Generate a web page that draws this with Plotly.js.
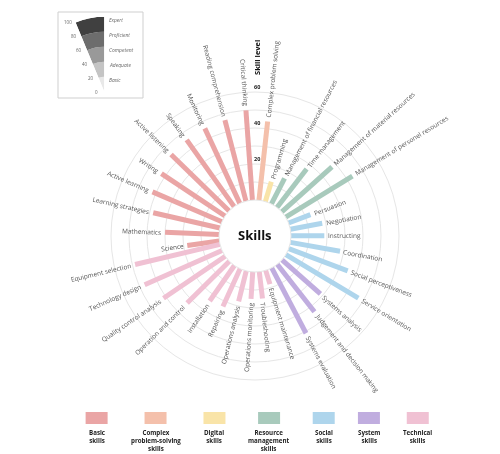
<!DOCTYPE html>
<html><head><meta charset="utf-8">
<script src="https://cdn.plot.ly/plotly-3.0.1.min.js"></script>
<style>html,body{margin:0;padding:0;background:#fff}#chart{width:500px;height:454px}
#chart .main-svg{will-change:transform}</style>
</head><body><div id="chart"></div>
<script>
// ---------- data ----------
const skills = [
 'Science','Mathematics','Learning strategies','Active learning','Writing','Active listening','Speaking',
 'Monitoring','Reading comprehension','Critical thinking',
 'Complex problem solving',
 'Programming',
 'Management of financial resources','Time management','Management of material resources','Management of personel resources',
 'Persuasion','Negotiation','Instructing','Coordination','Social perceptiveness','Service orientation',
 'Systems analysis','Judgement and decision making','Systems evaluation',
 'Equipment maintenance','Troubleshooting','Operations monitoring','Operations analysis','Repairing','Installation',
 'Operation and control','Quality control analysis','Technology design','Equipment selection'];
const levels = [18,30,38,42,42.5,45,45.5,46,46.5,50, 44, 11.5, 16,27,37.5,43.5, 13,18,18.5,28,35,47, 28.5,33.5,41, 8,15,15,17.5,23,24,33,41.5,47,48.5];
const skillGroup = [0,0,0,0,0,0,0,0,0,0, 1, 2, 3,3,3,3, 4,4,4,4,4,4, 5,5,5, 6,6,6,6,6,6,6,6,6,6];
const groupNames = ['Basic\nskills','Complex\nproblem-solving\nskills','Digital\nskills','Resource\nmanagement\nskills','Social\nskills','System\nskills','Technical\nskills'];
const groupColors = ['#eaa5a5','#f4c0ab','#f9e4a8','#a8cabc','#aed5ec','#c0addf','#f0c1d3'];
const levelNames = ['Basic','Adequate','Competent','Proficient','Expert'];
const levelBounds = [0,20,40,60,80,100];
const levelColors = ['#e8e8e8','#c4c4c4','#999999','#6d6d6d','#404040'];
const radialTicks = [20,40,60];
const centerTitle = 'Skills';
const axisTitle = 'Skill level';

// ---------- geometry ----------
const W=500,H=454;
const CX=255, CY=236, R=144, RMAX=60, HOLE=0.25;
const START=262, STEP=10.43;   // angular layout (clockwise from top)
const r0 = R*HOLE, ppu = (R-r0)/RMAX;
const X = px=>px/W, Y = py=>1-py/H;
const FONT = 'Open Sans';
const ctx = document.createElement('canvas').getContext('2d');
function tw(t,size,bold){ctx.font=(bold?'bold ':'')+size+'px "'+FONT+'"';return ctx.measureText(t).width;}

const theta = skills.map((s,i)=>(START+STEP*i)%360);

const traces = groupNames.map((g,gi)=>{
  const r=[],t=[];
  skills.forEach((s,i)=>{ if(skillGroup[i]===gi){ r.push(0,levels[i],null); t.push(theta[i],theta[i],theta[i]); }});
  return {type:'scatterpolar',subplot:'polar',mode:'lines',r,theta:t,connectgaps:false,
    line:{color:groupColors[gi],width:5},hoverinfo:'skip',showlegend:false};
});

// inset key (mini polar sector)
const IAX=104.3, IAY=91.7, IR=75, S0=90, S1=112.5;
const sw = Math.abs(Math.cos(S1*Math.PI/180));
traces.push({type:'barpolar',subplot:'polar2',
  r: levelNames.map((l,i)=>levelBounds[i+1]-levelBounds[i]),
  base: levelNames.map((l,i)=>levelBounds[i]),
  theta: levelNames.map(()=> (S0+S1)/2), width: S1-S0,
  marker:{color:levelColors,line:{width:0}},hoverinfo:'skip',showlegend:false});

const annotations=[], shapes=[];
const GAP=4, LSIZE=6.5;
skills.forEach((s,i)=>{
  const a=theta[i], rad=a*Math.PI/180;
  const d=r0+levels[i]*ppu+GAP+tw(s,LSIZE,false)/2;
  annotations.push({xref:'paper',yref:'paper',x:X(CX+Math.sin(rad)*d),y:Y(CY-Math.cos(rad)*d),
    text:s,textangle:a<179.5?a-90:a-270,showarrow:false,xanchor:'center',yanchor:'middle',
    font:{family:FONT,size:LSIZE,color:'#555'}});
});
annotations.push({xref:'paper',yref:'paper',x:X(CX),y:Y(CY-1),text:'<b>'+centerTitle+'</b>',showarrow:false,
  xanchor:'center',yanchor:'middle',font:{family:FONT,size:13,color:'#111'}});
annotations.push({xref:'paper',yref:'paper',x:X(CX+2),y:Y(58),text:'<b>'+axisTitle+'</b>',textangle:-90,showarrow:false,
  xanchor:'center',yanchor:'middle',font:{family:FONT,size:7.5,color:'#111'}});
radialTicks.forEach(v=>{
  annotations.push({xref:'paper',yref:'paper',x:X(CX+2),y:Y(CY-(r0+v*ppu)-5),text:'<b>'+v+'</b>',showarrow:false,
    xanchor:'center',yanchor:'middle',font:{family:FONT,size:5.5,color:'#222'}});
});
// inset labels
const ippu = IR/levelBounds[levelBounds.length-1];
levelNames.forEach((l,i)=>{
  annotations.push({xref:'paper',yref:'paper',x:X(IAX+3),y:Y(IAY-levelBounds[i+1]*ippu+3),text:'<i>'+l+'</i>',showarrow:false,
    xanchor:'left',yanchor:'middle',font:{family:FONT,size:5,color:'#666'}});
});
const ea=S1*Math.PI/180, ux=Math.cos(ea), uy=-Math.sin(ea), px=-0.924, py=0.383;
levelBounds.forEach(v=>{
  const d=v*ippu+3;
  annotations.push({xref:'paper',yref:'paper',x:X(IAX+ux*d+px*7),y:Y(IAY+uy*d+py*7),text:String(v),showarrow:false,
    xanchor:'center',yanchor:'middle',font:{family:FONT,size:4.5,color:'#666'}});
});
shapes.push({type:'rect',xref:'paper',yref:'paper',x0:X(58),x1:X(143),y0:Y(98),y1:Y(12),line:{color:'#cfcfcf',width:1},fillcolor:'rgba(0,0,0,0)'});

// bottom key
const SWW=22, SWH=12, SWY=412, KGAP=23, KCENTER=259, KSIZE=6.2;
const itemW = groupNames.map(g=>Math.max(SWW,...g.split('\n').map(t=>tw(t,KSIZE,true))));
const total = itemW.reduce((a,b)=>a+b,0)+KGAP*(itemW.length-1);
let xx = KCENTER-total/2;
groupNames.forEach((g,gi)=>{
  const c = xx+itemW[gi]/2;
  shapes.push({type:'rect',xref:'paper',yref:'paper',x0:X(c-SWW/2),x1:X(c+SWW/2),y0:Y(SWY+SWH),y1:Y(SWY),
    line:{width:0},fillcolor:groupColors[gi]});
  annotations.push({xref:'paper',yref:'paper',x:X(c),y:Y(SWY+SWH+3),text:'<b>'+g.split('\n').join('<br>')+'</b>',showarrow:false,
    xanchor:'center',yanchor:'top',align:'center',borderpad:0,font:{family:FONT,size:KSIZE,color:'#222'}});
  xx += itemW[gi]+KGAP;
});

const layout = {
  width:W,height:H,margin:{l:0,r:0,t:0,b:0},paper_bgcolor:'#fff',plot_bgcolor:'#fff',showlegend:false,
  polar:{domain:{x:[X(CX-R),X(CX+R)],y:[Y(CY+R),Y(CY-R)]},hole:HOLE,bgcolor:'rgba(0,0,0,0)',
    radialaxis:{range:[0,RMAX],dtick:10,tick0:0,showgrid:true,gridcolor:'#e6e6e6',gridwidth:1,showticklabels:false,ticks:'',showline:false},
    angularaxis:{rotation:90,direction:'clockwise',thetaunit:'degrees',showgrid:false,showticklabels:false,ticks:'',showline:true,linecolor:'#e6e6e6',linewidth:1}},
  polar2:{domain:{x:[X(IAX-IR*sw),X(IAX)],y:[Y(IAY),Y(IAY-IR)]},sector:[S0,S1],bgcolor:'rgba(0,0,0,0)',barmode:'overlay',
    radialaxis:{range:[0,levelBounds[levelBounds.length-1]],visible:false},angularaxis:{visible:false}},
  annotations,shapes
};
Plotly.newPlot('chart',traces,layout,{staticPlot:true,displayModeBar:false});
</script></body></html>
